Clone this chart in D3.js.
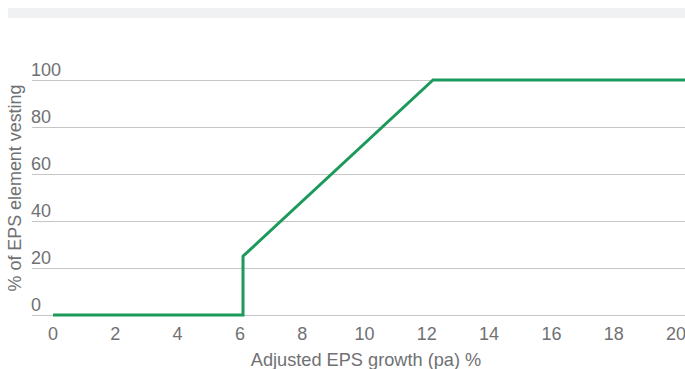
<!DOCTYPE html>
<html><head><meta charset="utf-8">
<script src="https://cdn.jsdelivr.net/npm/d3@7"></script>
<style>
html,body{margin:0;padding:0;background:#fff;overflow:hidden;}
text{font-family:"Liberation Sans","Helvetica Neue",Arial,sans-serif;font-weight:300;fill:#707173;}
</style></head>
<body><svg id="c" width="685" height="369"></svg>
<script>
const xTicks = [0, 2, 4, 6, 8, 10, 12, 14, 16, 18, 20];
const yTicks = [0, 20, 40, 60, 80, 100];
const growth = [0, 6.1, 6.1, 12.2, 20.5];
const vesting = [0, 0, 25, 100, 100];
const xTitle = "Adjusted EPS growth (pa) %";
const yTitle = "% of EPS element vesting";

const svg = d3.select("#c");
const x = d3.scaleLinear().domain([0, 20]).range([53, 676]);
const y = d3.scaleLinear().domain([0, 100]).range([315, 80]);

// top band
svg.append("rect").attr("x", 8).attr("y", 8).attr("width", 677).attr("height", 10).attr("fill", "#f0f1f2");

// gridlines
const gy = svg.append("g");
gy.selectAll("line").data(yTicks).join("line")
  .attr("x1", 32).attr("x2", 685)
  .attr("y1", d => y(d) + 0.5).attr("y2", d => y(d) + 0.5)
  .attr("stroke", "#c6c6c6").attr("stroke-width", 1);
gy.selectAll("text").data(yTicks).join("text")
  .attr("x", 31).attr("y", d => y(d) - 4)
  .attr("font-size", 18).text(d => d);

// x tick labels
svg.append("g").selectAll("text").data(xTicks).join("text")
  .attr("x", d => x(d)).attr("y", 340).attr("text-anchor", "middle")
  .attr("font-size", 18).text(d => d);

// line
const pts = growth.map((g, i) => [g, vesting[i]]);
svg.append("path").datum(pts)
  .attr("d", d3.line().x(d => x(d[0])).y(d => y(d[1])))
  .attr("fill", "none").attr("stroke", "#1d9a5b").attr("stroke-width", 3)
  .attr("stroke-linejoin", "miter");

// titles
svg.append("text").attr("x", 366).attr("y", 366).attr("text-anchor", "middle")
  .attr("font-size", 18.2).text(xTitle);
svg.append("text").attr("transform", "translate(21,188) rotate(-90)")
  .attr("text-anchor", "middle").attr("font-size", 17.9).text(yTitle);
</script></body></html>
